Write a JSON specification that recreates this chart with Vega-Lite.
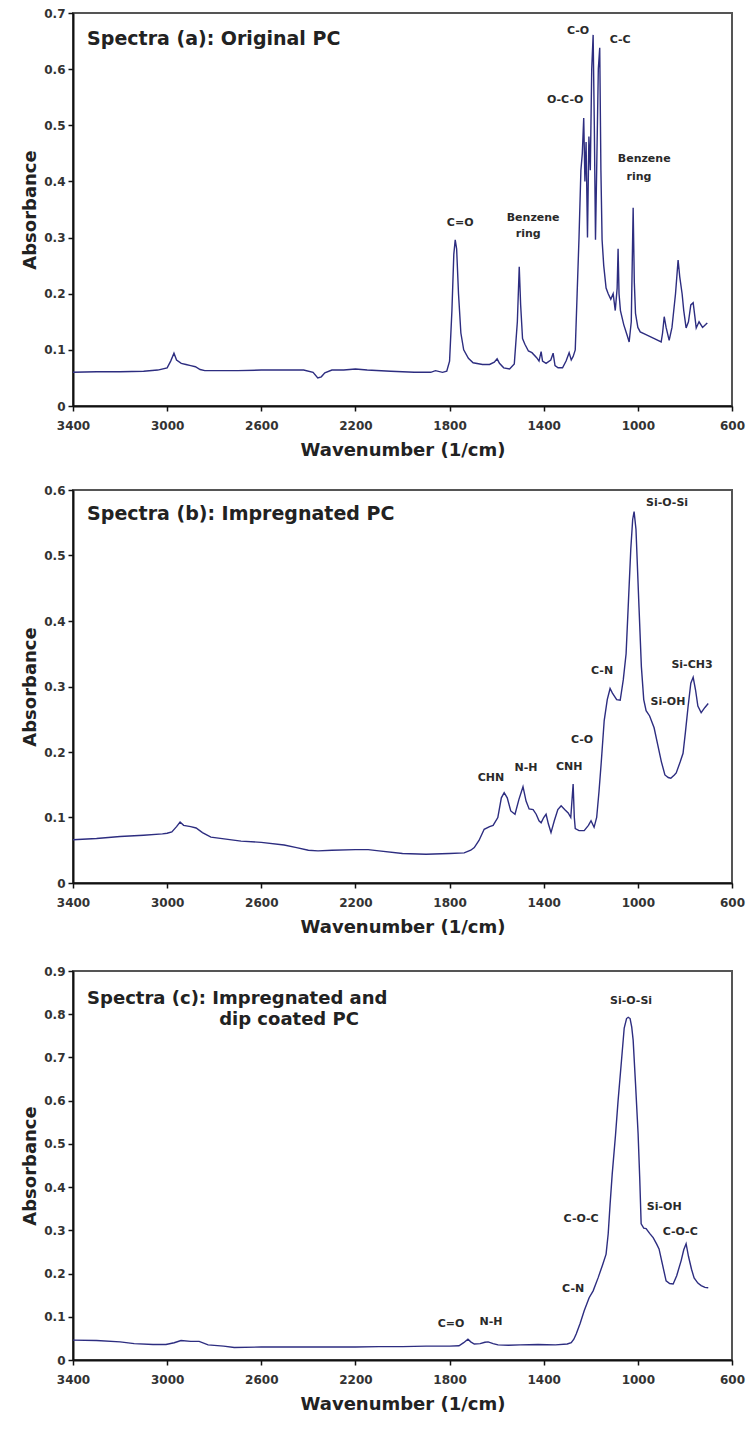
{
  "$schema": "https://vega.github.io/schema/vega-lite/v6.json",
  "padding": {"left": 20, "top": 6, "right": 8, "bottom": 5},
  "background": "white",
  "spacing": 23,
  "datasets": {
    "a": [
      {"wn":3400,"A":0.060},{"wn":3300,"A":0.061},{"wn":3200,"A":0.061},{"wn":3100,"A":0.062},{"wn":3040,"A":0.064},{"wn":3000,"A":0.068},{"wn":2985,"A":0.080},{"wn":2971,"A":0.094},{"wn":2960,"A":0.082},{"wn":2940,"A":0.076},{"wn":2920,"A":0.074},{"wn":2900,"A":0.072},{"wn":2880,"A":0.070},{"wn":2860,"A":0.065},{"wn":2840,"A":0.063},{"wn":2700,"A":0.063},{"wn":2600,"A":0.064},{"wn":2500,"A":0.064},{"wn":2420,"A":0.064},{"wn":2380,"A":0.060},{"wn":2360,"A":0.050},{"wn":2345,"A":0.052},{"wn":2330,"A":0.059},{"wn":2300,"A":0.064},{"wn":2250,"A":0.064},{"wn":2200,"A":0.066},{"wn":2150,"A":0.064},{"wn":2050,"A":0.062},{"wn":1950,"A":0.060},{"wn":1880,"A":0.060},{"wn":1860,"A":0.063},{"wn":1830,"A":0.060},{"wn":1812,"A":0.062},{"wn":1800,"A":0.080},{"wn":1790,"A":0.170},{"wn":1782,"A":0.270},{"wn":1776,"A":0.296},{"wn":1770,"A":0.280},{"wn":1762,"A":0.200},{"wn":1752,"A":0.130},{"wn":1740,"A":0.100},{"wn":1720,"A":0.085},{"wn":1700,"A":0.077},{"wn":1660,"A":0.074},{"wn":1630,"A":0.074},{"wn":1610,"A":0.078},{"wn":1598,"A":0.084},{"wn":1588,"A":0.076},{"wn":1570,"A":0.068},{"wn":1545,"A":0.066},{"wn":1525,"A":0.075},{"wn":1512,"A":0.150},{"wn":1504,"A":0.248},{"wn":1498,"A":0.180},{"wn":1490,"A":0.120},{"wn":1480,"A":0.110},{"wn":1465,"A":0.098},{"wn":1450,"A":0.095},{"wn":1430,"A":0.086},{"wn":1420,"A":0.080},{"wn":1411,"A":0.097},{"wn":1405,"A":0.080},{"wn":1390,"A":0.076},{"wn":1370,"A":0.082},{"wn":1360,"A":0.094},{"wn":1352,"A":0.072},{"wn":1339,"A":0.068},{"wn":1320,"A":0.068},{"wn":1305,"A":0.080},{"wn":1292,"A":0.095},{"wn":1283,"A":0.082},{"wn":1275,"A":0.088},{"wn":1266,"A":0.100},{"wn":1258,"A":0.200},{"wn":1250,"A":0.300},{"wn":1242,"A":0.420},{"wn":1236,"A":0.450},{"wn":1230,"A":0.513},{"wn":1225,"A":0.400},{"wn":1220,"A":0.470},{"wn":1214,"A":0.300},{"wn":1208,"A":0.480},{"wn":1202,"A":0.420},{"wn":1196,"A":0.600},{"wn":1190,"A":0.661},{"wn":1185,"A":0.500},{"wn":1180,"A":0.296},{"wn":1175,"A":0.420},{"wn":1168,"A":0.600},{"wn":1162,"A":0.638},{"wn":1157,"A":0.420},{"wn":1152,"A":0.296},{"wn":1145,"A":0.250},{"wn":1135,"A":0.210},{"wn":1126,"A":0.200},{"wn":1115,"A":0.190},{"wn":1105,"A":0.200},{"wn":1096,"A":0.170},{"wn":1088,"A":0.210},{"wn":1084,"A":0.280},{"wn":1080,"A":0.200},{"wn":1074,"A":0.170},{"wn":1060,"A":0.145},{"wn":1045,"A":0.125},{"wn":1037,"A":0.114},{"wn":1028,"A":0.150},{"wn":1020,"A":0.353},{"wn":1015,"A":0.220},{"wn":1010,"A":0.165},{"wn":1000,"A":0.140},{"wn":990,"A":0.132},{"wn":970,"A":0.128},{"wn":950,"A":0.124},{"wn":930,"A":0.120},{"wn":901,"A":0.114},{"wn":895,"A":0.130},{"wn":888,"A":0.159},{"wn":880,"A":0.140},{"wn":867,"A":0.117},{"wn":855,"A":0.140},{"wn":840,"A":0.200},{"wn":829,"A":0.260},{"wn":822,"A":0.230},{"wn":812,"A":0.200},{"wn":805,"A":0.170},{"wn":795,"A":0.139},{"wn":785,"A":0.150},{"wn":775,"A":0.180},{"wn":765,"A":0.184},{"wn":758,"A":0.160},{"wn":752,"A":0.139},{"wn":740,"A":0.150},{"wn":725,"A":0.140},{"wn":712,"A":0.145},{"wn":705,"A":0.148}
    ],
    "b": [
      {"wn":3400,"A":0.066},{"wn":3300,"A":0.068},{"wn":3200,"A":0.071},{"wn":3100,"A":0.073},{"wn":3020,"A":0.075},{"wn":3000,"A":0.076},{"wn":2980,"A":0.078},{"wn":2960,"A":0.086},{"wn":2945,"A":0.093},{"wn":2930,"A":0.088},{"wn":2900,"A":0.086},{"wn":2877,"A":0.084},{"wn":2850,"A":0.077},{"wn":2814,"A":0.070},{"wn":2750,"A":0.067},{"wn":2686,"A":0.064},{"wn":2600,"A":0.062},{"wn":2503,"A":0.058},{"wn":2450,"A":0.054},{"wn":2400,"A":0.050},{"wn":2359,"A":0.049},{"wn":2300,"A":0.050},{"wn":2200,"A":0.051},{"wn":2146,"A":0.051},{"wn":2100,"A":0.049},{"wn":2000,"A":0.045},{"wn":1900,"A":0.044},{"wn":1800,"A":0.045},{"wn":1738,"A":0.046},{"wn":1710,"A":0.050},{"wn":1695,"A":0.054},{"wn":1675,"A":0.065},{"wn":1653,"A":0.082},{"wn":1630,"A":0.086},{"wn":1615,"A":0.088},{"wn":1595,"A":0.100},{"wn":1580,"A":0.130},{"wn":1568,"A":0.138},{"wn":1555,"A":0.130},{"wn":1540,"A":0.110},{"wn":1522,"A":0.105},{"wn":1505,"A":0.128},{"wn":1488,"A":0.147},{"wn":1475,"A":0.125},{"wn":1462,"A":0.113},{"wn":1445,"A":0.112},{"wn":1432,"A":0.105},{"wn":1420,"A":0.095},{"wn":1411,"A":0.092},{"wn":1400,"A":0.100},{"wn":1390,"A":0.105},{"wn":1380,"A":0.090},{"wn":1369,"A":0.077},{"wn":1355,"A":0.095},{"wn":1340,"A":0.112},{"wn":1326,"A":0.118},{"wn":1310,"A":0.112},{"wn":1296,"A":0.107},{"wn":1285,"A":0.100},{"wn":1275,"A":0.151},{"wn":1270,"A":0.100},{"wn":1266,"A":0.083},{"wn":1250,"A":0.080},{"wn":1228,"A":0.080},{"wn":1210,"A":0.088},{"wn":1199,"A":0.095},{"wn":1186,"A":0.085},{"wn":1175,"A":0.100},{"wn":1165,"A":0.140},{"wn":1156,"A":0.182},{"wn":1143,"A":0.248},{"wn":1130,"A":0.280},{"wn":1118,"A":0.297},{"wn":1108,"A":0.290},{"wn":1090,"A":0.280},{"wn":1075,"A":0.279},{"wn":1062,"A":0.310},{"wn":1050,"A":0.350},{"wn":1040,"A":0.430},{"wn":1030,"A":0.510},{"wn":1022,"A":0.555},{"wn":1016,"A":0.567},{"wn":1008,"A":0.540},{"wn":995,"A":0.420},{"wn":985,"A":0.330},{"wn":975,"A":0.280},{"wn":965,"A":0.263},{"wn":950,"A":0.255},{"wn":931,"A":0.237},{"wn":915,"A":0.210},{"wn":900,"A":0.185},{"wn":885,"A":0.165},{"wn":871,"A":0.161},{"wn":860,"A":0.160},{"wn":845,"A":0.165},{"wn":837,"A":0.168},{"wn":820,"A":0.185},{"wn":808,"A":0.198},{"wn":798,"A":0.230},{"wn":787,"A":0.268},{"wn":775,"A":0.305},{"wn":765,"A":0.314},{"wn":755,"A":0.295},{"wn":745,"A":0.270},{"wn":731,"A":0.260},{"wn":715,"A":0.268},{"wn":701,"A":0.274}
    ],
    "c": [
      {"wn":3400,"A":0.046},{"wn":3300,"A":0.045},{"wn":3200,"A":0.042},{"wn":3140,"A":0.038},{"wn":3060,"A":0.036},{"wn":3005,"A":0.036},{"wn":2970,"A":0.040},{"wn":2941,"A":0.045},{"wn":2900,"A":0.043},{"wn":2864,"A":0.043},{"wn":2826,"A":0.035},{"wn":2760,"A":0.032},{"wn":2715,"A":0.029},{"wn":2600,"A":0.030},{"wn":2500,"A":0.030},{"wn":2400,"A":0.030},{"wn":2300,"A":0.030},{"wn":2200,"A":0.030},{"wn":2100,"A":0.031},{"wn":2000,"A":0.031},{"wn":1900,"A":0.032},{"wn":1800,"A":0.032},{"wn":1760,"A":0.033},{"wn":1740,"A":0.040},{"wn":1722,"A":0.048},{"wn":1710,"A":0.042},{"wn":1695,"A":0.037},{"wn":1670,"A":0.038},{"wn":1650,"A":0.041},{"wn":1636,"A":0.042},{"wn":1615,"A":0.038},{"wn":1594,"A":0.035},{"wn":1550,"A":0.034},{"wn":1500,"A":0.035},{"wn":1424,"A":0.036},{"wn":1350,"A":0.035},{"wn":1300,"A":0.037},{"wn":1283,"A":0.040},{"wn":1272,"A":0.048},{"wn":1262,"A":0.060},{"wn":1245,"A":0.085},{"wn":1228,"A":0.114},{"wn":1207,"A":0.144},{"wn":1190,"A":0.160},{"wn":1169,"A":0.190},{"wn":1150,"A":0.220},{"wn":1135,"A":0.245},{"wn":1126,"A":0.292},{"wn":1118,"A":0.360},{"wn":1109,"A":0.430},{"wn":1095,"A":0.520},{"wn":1084,"A":0.600},{"wn":1070,"A":0.690},{"wn":1058,"A":0.768},{"wn":1048,"A":0.790},{"wn":1041,"A":0.793},{"wn":1033,"A":0.790},{"wn":1026,"A":0.770},{"wn":1020,"A":0.740},{"wn":1010,"A":0.640},{"wn":999,"A":0.524},{"wn":992,"A":0.420},{"wn":986,"A":0.315},{"wn":975,"A":0.305},{"wn":965,"A":0.304},{"wn":950,"A":0.293},{"wn":935,"A":0.283},{"wn":920,"A":0.268},{"wn":910,"A":0.257},{"wn":895,"A":0.220},{"wn":880,"A":0.183},{"wn":865,"A":0.177},{"wn":850,"A":0.176},{"wn":835,"A":0.195},{"wn":816,"A":0.230},{"wn":805,"A":0.255},{"wn":795,"A":0.269},{"wn":785,"A":0.240},{"wn":772,"A":0.210},{"wn":761,"A":0.190},{"wn":745,"A":0.178},{"wn":731,"A":0.172},{"wn":715,"A":0.168},{"wn":701,"A":0.167}
    ],
    "la": [
      {"wn":1755,"A":0.326,"t":"C=O"},
      {"wn":1445,"A":0.335,"t":"Benzene"},
      {"wn":1466,"A":0.307,"t":"ring"},
      {"wn":1309,"A":0.545,"t":"O-C-O"},
      {"wn":1254,"A":0.668,"t":"C-O"},
      {"wn":1075,"A":0.652,"t":"C-C"},
      {"wn":973,"A":0.440,"t":"Benzene"},
      {"wn":995,"A":0.408,"t":"ring"}
    ],
    "lb": [
      {"wn":876,"A":0.580,"t":"Si-O-Si"},
      {"wn":1152,"A":0.324,"t":"C-N"},
      {"wn":770,"A":0.333,"t":"Si-CH3"},
      {"wn":872,"A":0.277,"t":"Si-OH"},
      {"wn":1237,"A":0.219,"t":"C-O"},
      {"wn":1292,"A":0.177,"t":"CNH"},
      {"wn":1475,"A":0.176,"t":"N-H"},
      {"wn":1624,"A":0.161,"t":"CHN"}
    ],
    "lc": [
      {"wn":1029,"A":0.831,"t":"Si-O-Si"},
      {"wn":1241,"A":0.327,"t":"C-O-C"},
      {"wn":888,"A":0.353,"t":"Si-OH"},
      {"wn":820,"A":0.295,"t":"C-O-C"},
      {"wn":1275,"A":0.165,"t":"C-N"},
      {"wn":1794,"A":0.084,"t":"C=O"},
      {"wn":1624,"A":0.088,"t":"N-H"}
    ],
    "ta": [{"wn":3340,"A":0.654,"t":"Spectra (a): Original PC"}],
    "tb": [{"wn":3340,"A":0.563,"t":"Spectra (b): Impregnated PC"}],
    "tc": [{"wn":3340,"A":0.835,"t":"Spectra (c): Impregnated and"},{"wn":2779,"A":0.786,"t":"dip coated PC"}]
  },
  "vconcat": [
    {
      "width": 659, "height": 393,
      "encoding": {
        "x": {"field":"wn","type":"quantitative","scale":{"domain":[600,3400],"reverse":true,"nice":false},"axis":{"values":[3400,3000,2600,2200,1800,1400,1000,600],"format":"d","title":"Wavenumber (1/cm)"}},
        "y": {"field":"A","type":"quantitative","scale":{"domain":[0,0.7],"nice":false},"axis":{"values":[0,0.1,0.2,0.3,0.4,0.5,0.6,0.7],"format":".1~f","title":"Absorbance"}}
      },
      "layer": [
        {"data":{"name":"a"},"mark":{"type":"line","color":"#2d2d80","strokeWidth":1.4}},
        {"data":{"name":"la"},"mark":{"type":"text","font":"DejaVu Sans","fontSize":11,"fontWeight":"bold","color":"#2a2a2a"},"encoding":{"text":{"field":"t"}}},
        {"data":{"name":"ta"},"mark":{"type":"text","align":"left","font":"DejaVu Sans","fontSize":19,"fontWeight":"bold","color":"#222"},"encoding":{"text":{"field":"t"}}}
      ]
    },
    {
      "spacing": 27,
      "vconcat": [
        {
          "width": 659, "height": 393,
          "encoding": {
            "x": {"field":"wn","type":"quantitative","scale":{"domain":[600,3400],"reverse":true,"nice":false},"axis":{"values":[3400,3000,2600,2200,1800,1400,1000,600],"format":"d","title":"Wavenumber (1/cm)"}},
            "y": {"field":"A","type":"quantitative","scale":{"domain":[0,0.6],"nice":false},"axis":{"values":[0,0.1,0.2,0.3,0.4,0.5,0.6],"format":".1~f","title":"Absorbance"}}
          },
          "layer": [
            {"data":{"name":"b"},"mark":{"type":"line","color":"#2d2d80","strokeWidth":1.4}},
            {"data":{"name":"lb"},"mark":{"type":"text","font":"DejaVu Sans","fontSize":11,"fontWeight":"bold","color":"#2a2a2a"},"encoding":{"text":{"field":"t"}}},
            {"data":{"name":"tb"},"mark":{"type":"text","align":"left","font":"DejaVu Sans","fontSize":19,"fontWeight":"bold","color":"#222"},"encoding":{"text":{"field":"t"}}}
          ]
        },
        {
          "width": 659, "height": 389,
          "encoding": {
            "x": {"field":"wn","type":"quantitative","scale":{"domain":[600,3400],"reverse":true,"nice":false},"axis":{"values":[3400,3000,2600,2200,1800,1400,1000,600],"format":"d","title":"Wavenumber (1/cm)"}},
            "y": {"field":"A","type":"quantitative","scale":{"domain":[0,0.9],"nice":false},"axis":{"values":[0,0.1,0.2,0.3,0.4,0.5,0.6,0.7,0.8,0.9],"format":".1~f","title":"Absorbance"}}
          },
          "layer": [
            {"data":{"name":"c"},"mark":{"type":"line","color":"#2d2d80","strokeWidth":1.4}},
            {"data":{"name":"lc"},"mark":{"type":"text","font":"DejaVu Sans","fontSize":11,"fontWeight":"bold","color":"#2a2a2a"},"encoding":{"text":{"field":"t"}}},
            {"data":{"name":"tc"},"mark":{"type":"text","align":"left","font":"DejaVu Sans","fontSize":18,"fontWeight":"bold","color":"#222"},"encoding":{"text":{"field":"t"}}}
          ]
        }
      ]
    }
  ],
  "config": {
    "font": "DejaVu Sans",
    "view": {"stroke": "#555", "strokeWidth": 2},
    "axis": {
      "grid": false,
      "domainColor": "#111", "domainWidth": 2,
      "tickColor": "#111", "tickWidth": 1.5, "tickSize": 5,
      "labelFont": "DejaVu Sans", "labelFontSize": 12, "labelFontWeight": "bold", "labelColor": "#333",
      "labelFlush": false, "labelOverlap": false,
      "titleFont": "DejaVu Sans", "titleFontSize": 18, "titleFontWeight": "bold", "titleColor": "#222"
    },
    "axisX": {"labelPadding": 9, "titlePadding": 10},
    "axisY": {"labelPadding": 3, "titlePadding": 4}
  }
}
